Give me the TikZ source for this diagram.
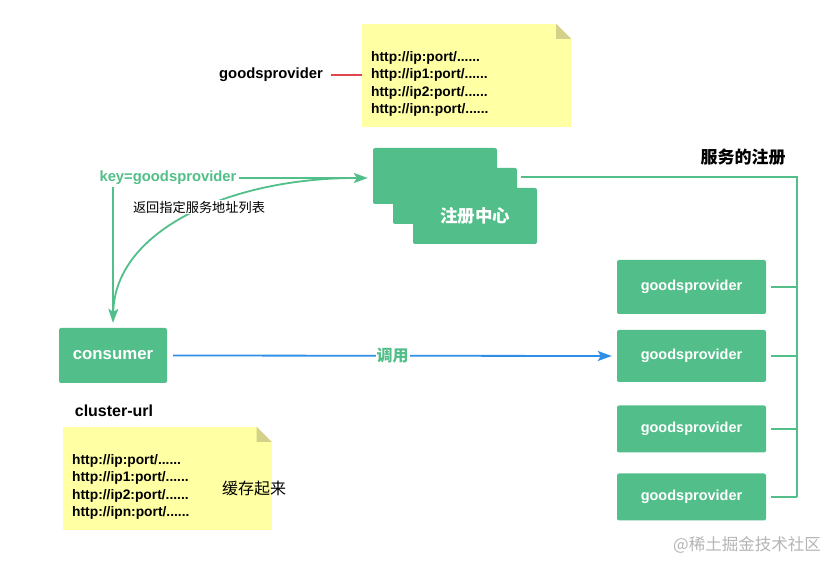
\documentclass[tikz,border=0pt]{standalone}
\usepackage{fontspec}
\setmainfont{Liberation Sans}
\newfontfamily\cjk{Noto Sans CJK SC}
\usetikzlibrary{positioning, arrows.meta}

\definecolor{boxgreen}{HTML}{52BE89}
\definecolor{notefill}{HTML}{FFFFA3}
\definecolor{notefold}{HTML}{D4D28A}
\definecolor{callblue}{HTML}{2F8FE6}
\definecolor{linkred}{HTML}{E0474C}
\definecolor{markgray}{HTML}{B4B4B4}

\tikzset{
  greenbox/.style={fill=boxgreen, rounded corners=2pt, text=white, inner sep=0pt},
  provbox/.style={greenbox, minimum width=149pt, font=\fontsize{14.5}{16}\selectfont\bfseries},
  notebox/.style={fill=notefill, inner sep=0pt, minimum width=209pt, minimum height=103pt},
  urls/.style={align=left, inner sep=0pt, font=\fontsize{13.8}{17.3}\selectfont\bfseries},
  link/.style={boxgreen, line width=1.8pt},
  arrowtip/.style={-{Stealth[length=14pt, width=10pt, inset=3pt]}},
}

\begin{document}
\begin{tikzpicture}[x=1pt, y=-1pt]
    \useasboundingbox (0,0) rectangle (831,561);

    % the first note with the address list
    \node[notebox] (note1) at (466.5,75.5) {};
    \fill[white] (note1.north east) -- ++(-15,0) -- ++(15,15) -- cycle;
    \fill[notefold] (note1.north east) ++(-15,0) -- ++(0,15) -- ++(15,0) -- cycle;
    \node[urls, anchor=west] (list1) at (371,84) {http://ip:port/......\\http://ip1:port/......\\http://ip2:port/......\\http://ipn:port/......};

    % key of the note
    \node[font=\fontsize{14.8}{16}\selectfont\bfseries] (gp) at (271,75) {goodsprovider};
    \draw[linkred, line width=1.8pt, shorten <=5pt] (gp.east) -- (note1.west |- gp);

    % the registry, three boxes on top of one another
    \node[greenbox, minimum width=124pt, minimum height=56pt] (reg1) at (435,176) {};
    \node[greenbox, minimum width=124pt, minimum height=56pt] (reg2) at (455,196) {};
    \node[greenbox, minimum width=124pt, minimum height=56pt, font=\cjk\fontsize{17.5}{19}\selectfont\bfseries] (reg3) at (475,216) {注册中心};

    % the providers
    \node[provbox, minimum height=54pt] (prov1) at (691.5,287) {goodsprovider};
    \node[provbox, minimum height=52pt] (prov2) at (691.5,356) {goodsprovider};
    \node[provbox, minimum height=47pt] (prov3) at (691.5,429) {goodsprovider};
    \node[provbox, minimum height=47pt] (prov4) at (691.5,497) {goodsprovider};

    % registration of the services
    \node[font=\cjk\fontsize{17}{19}\selectfont\bfseries] (regtitle) at (743,157) {服务的注册};
    \coordinate (bustop) at (797,177);
    \coordinate (busend) at (797,497);
    \draw[link] ([xshift=4pt]reg2.east |- bustop) -- (bustop) -- (busend);
    \foreach \p in {prov1, prov2, prov3, prov4}
        \draw[link] ([xshift=5pt]\p.east) -- (\p.east -| bustop);

    % the consumer
    \node[greenbox, minimum width=108pt, minimum height=55pt, font=\fontsize{16.8}{18}\selectfont\bfseries] (cons) at (113,355.5) {consumer};

    % lookup by key and the answer of the registry
    \node[text=boxgreen, font=\fontsize{14.8}{16}\selectfont\bfseries, inner sep=2pt] (key) at (168,178) {key=goodsprovider};
    \coordinate (regin) at ([xshift=-5pt]reg1.west |- key);
    \draw[link, arrowtip] (key.east) -- (regin);
    \draw[link] (key.south -| cons.north) -- ([yshift=9pt]cons.north);
    \draw[link, arrowtip] ([xshift=-12pt]regin) .. controls (230,178) and (115,230) .. ([yshift=5pt]cons.north);
    \node[fill=white, inner sep=1pt, font=\cjk\fontsize{13.2}{15}\selectfont] (answer) at (199,207) {返回指定服务地址列表};

    % the call
    \draw[callblue, line width=1.8pt, arrowtip] ([xshift=6pt]cons.east) -- ([xshift=-5pt]prov2.west)
        node[midway, fill=white, inner sep=1pt, text=boxgreen, font=\cjk\fontsize{16}{18}\selectfont\bfseries] (call) {调用};

    % cached list of the consumer
    \node[font=\fontsize{16}{18}\selectfont\bfseries] (cluster) at (114,411) {cluster-url};
    \node[notebox] (note2) at (167,478.5) {};
    \fill[white] (note2.north east) -- ++(-15,0) -- ++(15,15) -- cycle;
    \fill[notefold] (note2.north east) ++(-15,0) -- ++(0,15) -- ++(15,0) -- cycle;
    \node[urls, anchor=west] (list2) at (72,487) {http://ip:port/......\\http://ip1:port/......\\http://ip2:port/......\\http://ipn:port/......};
    \node[font=\cjk\fontsize{16}{18}\selectfont] (cache) at (254,488) {缓存起来};

    % watermark
    \node[text=markgray, font=\cjk\fontsize{16.5}{18}\selectfont] (mark) at (747,545) {@稀土掘金技术社区};
\end{tikzpicture}
\end{document}
